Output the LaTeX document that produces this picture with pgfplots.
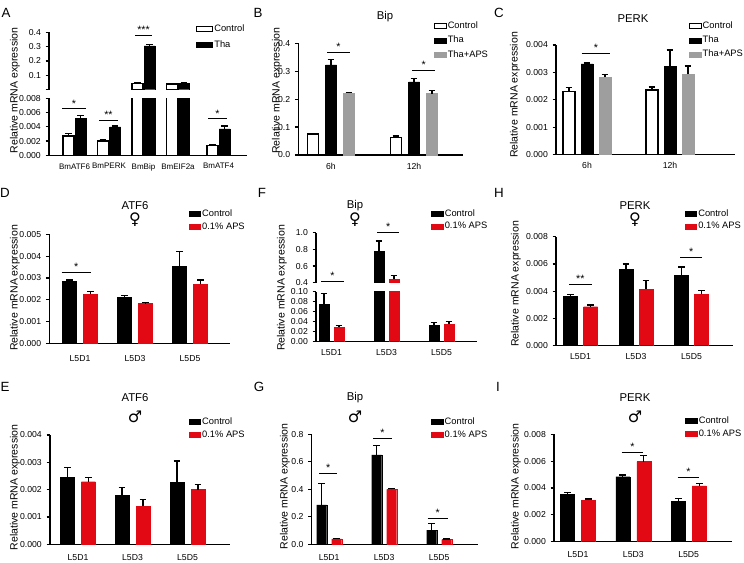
\documentclass[border=0pt]{standalone}
\usepackage{fontspec}
\setmainfont{Liberation Sans}
\newfontfamily\symfont{DejaVu Sans}
\usepackage{pgfplots}
\pgfplotsset{compat=1.18}
\definecolor{apsred}{RGB}{226,8,20}
\definecolor{thagrey}{RGB}{158,158,158}
\newcommand{\px}{0.75pt}
\tikzset{
  sig/.style={line width=0.75pt},
  st/.style={above, inner sep=1pt, font=\fontsize{8}{8}\selectfont},
}
\pgfplotsset{
  panel/.style={
    scale only axis,
    anchor=south west,
    axis lines*=left,
    axis line style={line width=0.9pt},
    tick align=outside,
    major tick length=2.6pt,
    ytick style={line width=0.9pt, black},
    xtick style={draw=none},
    tick label style={font=\fontsize{6.5}{7}\selectfont},
    /pgf/number format/assume math mode=true,
    scaled y ticks=false,
    clip mode=individual,
    legend cell align=left,
    legend style={draw=none, fill=none, inner sep=0pt, font=\fontsize{7}{8}\selectfont, row sep=1.2pt, nodes={inner sep=1pt}},
    legend image code/.code={\draw[##1, line width=0.6pt] (0pt,-1.9pt) rectangle (8.5pt,1.9pt);},
    error bars/y dir=plus, error bars/y explicit,
    error bars/error mark=|,
    error bars/error bar style={line width=1pt, black},
    error bars/error mark options={line width=1pt, black, mark size=2.5pt},
  },
  ctrlw/.style={ybar, bar shift=0pt, fill=white, draw=black, line width=0.9pt},
  blkbar/.style={ybar, bar shift=0pt, fill=black, draw=black, line width=0.3pt},
  redbar/.style={ybar, bar shift=0pt, fill=apsred, draw=apsred, line width=0.3pt},
  grybar/.style={ybar, bar shift=0pt, fill=thagrey, draw=thagrey, line width=0.3pt},
  p3/.style={yticklabel style={/pgf/number format/.cd, fixed, fixed zerofill, precision=3}},
  p2/.style={yticklabel style={/pgf/number format/.cd, fixed, fixed zerofill, precision=2}},
  p1/.style={yticklabel style={/pgf/number format/.cd, fixed, fixed zerofill, precision=1}},
}
\begin{document}
\begin{tikzpicture}
\useasboundingbox (0,0) rectangle (558pt,-421.5pt);

% ---------- Panel A upper
\begin{axis}[panel, at={(49*\px,-89.7*\px)}, width=198*\px, height=57.4*\px,
  xmin=49, xmax=247, ymin=0, ymax=0.4, axis x line=none, xtick=\empty,
  ytick={0,0.1,0.2,0.3,0.4}, yticklabels={,0.1,0.2,0.3,0.4},
  legend style={at={(axis description cs:0.742,1.157)}, anchor=north west, row sep=3pt},
  legend image code/.code={\draw[#1, line width=0.6pt] (0pt,-1.9pt) rectangle (12pt,1.9pt);}]
\addplot[ctrlw, bar width=11] coordinates {(137.5,0.045) +- (0,0.001) (172,0.040) +- (0,0.001)};
\addplot[blkbar, bar width=11] coordinates {(149.5,0.305) +- (0,0.008) (184,0.045) +- (0,0.001)};
\legend{Control,Tha}
\draw[sig] (axis cs:135,0.381) -- (axis cs:152,0.381) node[midway, st] {***};
\end{axis}

% ---------- Panel A lower
\begin{axis}[panel, p3, at={(49*\px,-155.3*\px)}, width=198*\px, height=57*\px,
  xmin=49, xmax=247, ymin=0, ymax=0.008,
  ytick={0,0.002,0.004,0.006,0.008},
  xticklabel style={font=\fontsize{6}{7}\selectfont},
  xtick={74.5,109,143.5,178,218.5}, xticklabels={BmATF6,BmPERK,BmBip,BmEIF2a,BmATF4}]
\addplot[ctrlw, bar width=11] coordinates {(68.5,0.0027) +- (0,0.0004) (103,0.0020) +- (0,0.0002) (137.5,0.045) +- (0,0.001) (172,0.040) +- (0,0.001) (212.5,0.0014) +- (0,0.0001)};
\addplot[blkbar, bar width=11] coordinates {(80.5,0.0052) +- (0,0.0004) (115,0.0040) +- (0,0.0001) (149.5,0.305) +- (0,0.008) (184,0.045) +- (0,0.001) (224.5,0.0037) +- (0,0.0004)};
\draw[sig] (axis cs:62,0.0065) -- (axis cs:86,0.0065) node[midway, st] {*};
\draw[sig] (axis cs:99,0.0049) -- (axis cs:118,0.0049) node[midway, st] {**};
\draw[sig] (axis cs:208,0.0051) -- (axis cs:227,0.0051) node[midway, st] {*};
\end{axis}

% ---------- Panel B
\begin{axis}[panel, p1, at={(298.3*\px,-155*\px)}, width=164.7*\px, height=111.7*\px,
  xmin=298.3, xmax=463, ymin=0, ymax=0.4, ytick={0,0.1,0.2,0.3,0.4},
  xtick={331,414}, xticklabels={6h,12h},
  legend style={at={(axis description cs:0.824,1.209)}, anchor=north west, row sep=2.4pt}]
\addplot[ctrlw, bar width=11] coordinates {(313,0.075) +- (0,0.002) (396,0.062) +- (0,0.006)};
\addplot[blkbar, bar width=11] coordinates {(331,0.323) +- (0,0.020) (414,0.262) +- (0,0.012)};
\addplot[grybar, bar width=11] coordinates {(349,0.222) +- (0,0.003) (432,0.220) +- (0,0.012)};
\legend{Control,Tha,Tha+APS}
\draw[sig] (axis cs:327,0.368) -- (axis cs:350,0.368) node[midway, st] {*};
\draw[sig] (axis cs:412.3,0.304) -- (axis cs:435,0.304) node[midway, st] {*};
\end{axis}

% ---------- Panel C
\begin{axis}[panel, p3, at={(556*\px,-154.5*\px)}, width=179*\px, height=109.5*\px,
  xmin=556, xmax=735, ymin=0, ymax=0.004, ytick={0,0.001,0.002,0.003,0.004},
  xtick={587,670}, xticklabels={6h,12h},
  legend style={at={(axis description cs:0.743,1.225)}, anchor=north west, row sep=2pt}]
\addplot[ctrlw, bar width=12] coordinates {(569,0.00229) +- (0,0.00015) (652,0.00236) +- (0,0.00011)};
\addplot[blkbar, bar width=12] coordinates {(587,0.00331) +- (0,0.00003) (670,0.00322) +- (0,0.0006)};
\addplot[grybar, bar width=12] coordinates {(605,0.00283) +- (0,0.0001) (688,0.00293) +- (0,0.0003)};
\legend{Control,Tha,Tha+APS}
\draw[sig] (axis cs:581.7,0.0037) -- (axis cs:610,0.0037) node[midway, st] {*};
\end{axis}

% ---------- Panel D
\begin{axis}[panel, p3, at={(49.3*\px,-343.3*\px)}, width=180.7*\px, height=109*\px,
  xmin=49.3, xmax=230, ymin=0, ymax=0.005, ytick={0,0.001,0.002,0.003,0.004,0.005},
  xticklabel style={yshift=-3pt},
  xtick={80,135,190}, xticklabels={L5D1,L5D3,L5D5},
  legend style={at={(axis description cs:0.770,1.239)}, anchor=north west}]
\addplot[blkbar, bar width=14] coordinates {(69.5,0.00283) +- (0,0.00008) (124.5,0.0021) +- (0,0.0001) (179.5,0.00352) +- (0,0.00068)};
\addplot[redbar, bar width=14] coordinates {(90.5,0.00226) +- (0,0.00011) (145.5,0.00183) +- (0,0.00003) (200.5,0.0027) +- (0,0.0002)};
\legend{Control,0.1\% APS}
\draw[sig] (axis cs:61.7,0.00324) -- (axis cs:90.7,0.00324) node[midway, st] {*};
\end{axis}

% ---------- Panel F upper
\begin{axis}[panel, p1, at={(316*\px,-282.7*\px)}, width=160.7*\px, height=50*\px,
  xmin=316, xmax=476.7, ymin=0.4, ymax=1.0, axis x line=none, xtick=\empty,
  ytick={0.4,0.6,0.8,1.0},
  legend style={at={(axis description cs:0.716,1.5)}, anchor=north west}]
\addplot[blkbar, bar width=10] coordinates {(379,0.78) +- (0,0.12)};
\addplot[redbar, bar width=10] coordinates {(394,0.44) +- (0,0.044)};
\legend{Control,0.1\% APS}
\draw[sig] (axis cs:321,0.42) -- (axis cs:344,0.42) node[midway, st] {*};
\draw[sig] (axis cs:377.3,1.0) -- (axis cs:399,1.0) node[midway, st] {*};
\end{axis}

% ---------- Panel F lower
\begin{axis}[panel, p2, at={(316*\px,-341.7*\px)}, width=160.7*\px, height=50*\px,
  xmin=316, xmax=476.7, ymin=0, ymax=0.1, ytick={0,0.02,0.04,0.06,0.08,0.10},
  xtick={331.5,386.5,441.5}, xticklabels={L5D1,L5D3,L5D5}]
\addplot[blkbar, bar width=10] coordinates {(324,0.075) +- (0,0.021) (379,0.78) +- (0,0.12) (434,0.033) +- (0,0.006)};
\addplot[redbar, bar width=10] coordinates {(339,0.029) +- (0,0.004) (394,0.44) +- (0,0.044) (449,0.035) +- (0,0.005)};
\end{axis}

% ---------- Panel H
\begin{axis}[panel, p3, at={(556*\px,-345.7*\px)}, width=177.3*\px, height=109*\px,
  xmin=556, xmax=733.3, ymin=0, ymax=0.008, ytick={0,0.002,0.004,0.006,0.008},
  xtick={580.5,636,691.5}, xticklabels={L5D1,L5D3,L5D5},
  legend style={at={(axis description cs:0.725,1.266)}, anchor=north west}]
\addplot[blkbar, bar width=14] coordinates {(570.5,0.00364) +- (0,0.00013) (626,0.00562) +- (0,0.00037) (681.5,0.00518) +- (0,0.00059)};
\addplot[redbar, bar width=14] coordinates {(590.5,0.00286) +- (0,0.00012) (646,0.00413) +- (0,0.00064) (701.5,0.00377) +- (0,0.00029)};
\legend{Control,0.1\% APS}
\draw[sig] (axis cs:569,0.00452) -- (axis cs:591.7,0.00452) node[midway, st] {**};
\draw[sig] (axis cs:680,0.00648) -- (axis cs:702.3,0.00648) node[midway, st] {*};
\end{axis}

% ---------- Panel E
\begin{axis}[panel, p3, at={(50*\px,-544.3*\px)}, width=180*\px, height=109.3*\px,
  xmin=50, xmax=230, ymin=0, ymax=0.004, ytick={0,0.001,0.002,0.003,0.004},
  xticklabel style={yshift=-1.5pt},
  xtick={78,132.5,187.5}, xticklabels={L5D1,L5D3,L5D5},
  legend style={at={(axis description cs:0.769,1.174)}, anchor=north west}]
\addplot[blkbar, bar width=14] coordinates {(67.5,0.00244) +- (0,0.00036) (122,0.00178) +- (0,0.00029) (177,0.00227) +- (0,0.00078)};
\addplot[redbar, bar width=14] coordinates {(88.5,0.00229) +- (0,0.00016) (143,0.0014) +- (0,0.00023) (198,0.0020) +- (0,0.0002)};
\legend{Control,0.1\% APS}
\end{axis}

% ---------- Panel G
\begin{axis}[panel, p1, at={(311.7*\px,-544.3*\px)}, width=166.6*\px, height=110*\px,
  xmin=311.7, xmax=478.3, ymin=0, ymax=0.8, ytick={0,0.2,0.4,0.6,0.8},
  xticklabel style={yshift=-1.5pt},
  xtick={329.2,384.2,439.2}, xticklabels={L5D1,L5D3,L5D5},
  legend style={at={(axis description cs:0.716,1.166)}, anchor=north west}]
\addplot[blkbar, bar width=10] coordinates {(321.7,0.286) +- (0,0.158) (376.7,0.65) +- (0,0.068) (431.7,0.104) +- (0,0.049)};
\addplot[redbar, bar width=10] coordinates {(336.7,0.039) +- (0,0.005) (391.7,0.40) +- (0,0.007) (446.7,0.034) +- (0,0.005)};
\legend{Control,0.1\% APS}
\draw[sig] (axis cs:319,0.516) -- (axis cs:337.3,0.516) node[midway, st] {*};
\draw[sig] (axis cs:373,0.771) -- (axis cs:391.7,0.771) node[midway, st] {*};
\draw[sig] (axis cs:427.7,0.189) -- (axis cs:447.7,0.189) node[midway, st] {*};
\end{axis}

% ---------- Panel I
\begin{axis}[panel, p3, at={(554*\px,-541.7*\px)}, width=178.3*\px, height=107.4*\px,
  xmin=554, xmax=732.3, ymin=0, ymax=0.008, ytick={0,0.002,0.004,0.006,0.008},
  xticklabel style={yshift=-1.5pt},
  xtick={578,633.3,688.7}, xticklabels={L5D1,L5D3,L5D5},
  legend style={at={(axis description cs:0.735,1.18)}, anchor=north west}]
\addplot[blkbar, bar width=14] coordinates {(567.5,0.00353) +- (0,0.00015) (622.8,0.00484) +- (0,0.00013) (678.2,0.00298) +- (0,0.00025)};
\addplot[redbar, bar width=14] coordinates {(588.5,0.0031) +- (0,0.00008) (643.8,0.00596) +- (0,0.00045) (699.2,0.00415) +- (0,0.0002)};
\legend{Control,0.1\% APS}
\draw[sig] (axis cs:621.7,0.00663) -- (axis cs:643.3,0.00663) node[midway, st] {*};
\draw[sig] (axis cs:677.7,0.00477) -- (axis cs:699.3,0.00477) node[midway, st] {*};
\end{axis}

% ---------- texts
\begin{scope}[x=0.75pt,y=-0.75pt]
\tikzset{lett/.style={font=\fontsize{10}{12}\selectfont, inner sep=0pt},
  ttl/.style={font=\fontsize{8.5}{10}\selectfont, inner sep=0pt},
  sx/.style={font=\symfont\bfseries\fontsize{12}{13}\selectfont, inner sep=0pt},
  yl/.style={rotate=90, font=\fontsize{7.9}{9}\selectfont, inner sep=0pt}}
\node[lett] at (6,13) {A};
\node[lett] at (258,13) {B};
\node[lett] at (499,13) {C};
\node[lett] at (5,193) {D};
\node[lett] at (262,193) {F};
\node[lett] at (499,193) {H};
\node[lett] at (5,387) {E};
\node[lett] at (259,387) {G};
\node[lett] at (498,387) {I};
\node[ttl] at (385,17) {Bip};
\node[ttl] at (633,19) {PERK};
\node[ttl] at (135,206) {ATF6};
\node[sx] at (135,220) {♀};
\node[ttl] at (355,206) {Bip};
\node[sx] at (355,220) {♀};
\node[ttl] at (635,206) {PERK};
\node[sx] at (635,220) {♀};
\node[ttl] at (135,398) {ATF6};
\node[sx] at (135,417) {♂};
\node[ttl] at (355,398) {Bip};
\node[sx] at (355,417) {♂};
\node[ttl] at (635,398) {PERK};
\node[sx] at (635,417) {♂};
\node[yl] at (15,90.5) {Relative mRNA expression};
\node[yl] at (277,90.7) {Relative mRNA expression};
\node[yl] at (515,95) {Relative mRNA expression};
\node[yl] at (15,288) {Relative mRNA expression};
\node[yl] at (282,288) {Relative mRNA expression};
\node[yl] at (516,284) {Relative mRNA expression};
\node[yl] at (15,487.5) {Relative mRNA expression};
\node[yl] at (285,486.5) {Relative mRNA expression};
\node[yl] at (516,486.5) {Relative mRNA expression};
\end{scope}
\end{tikzpicture}
\end{document}
